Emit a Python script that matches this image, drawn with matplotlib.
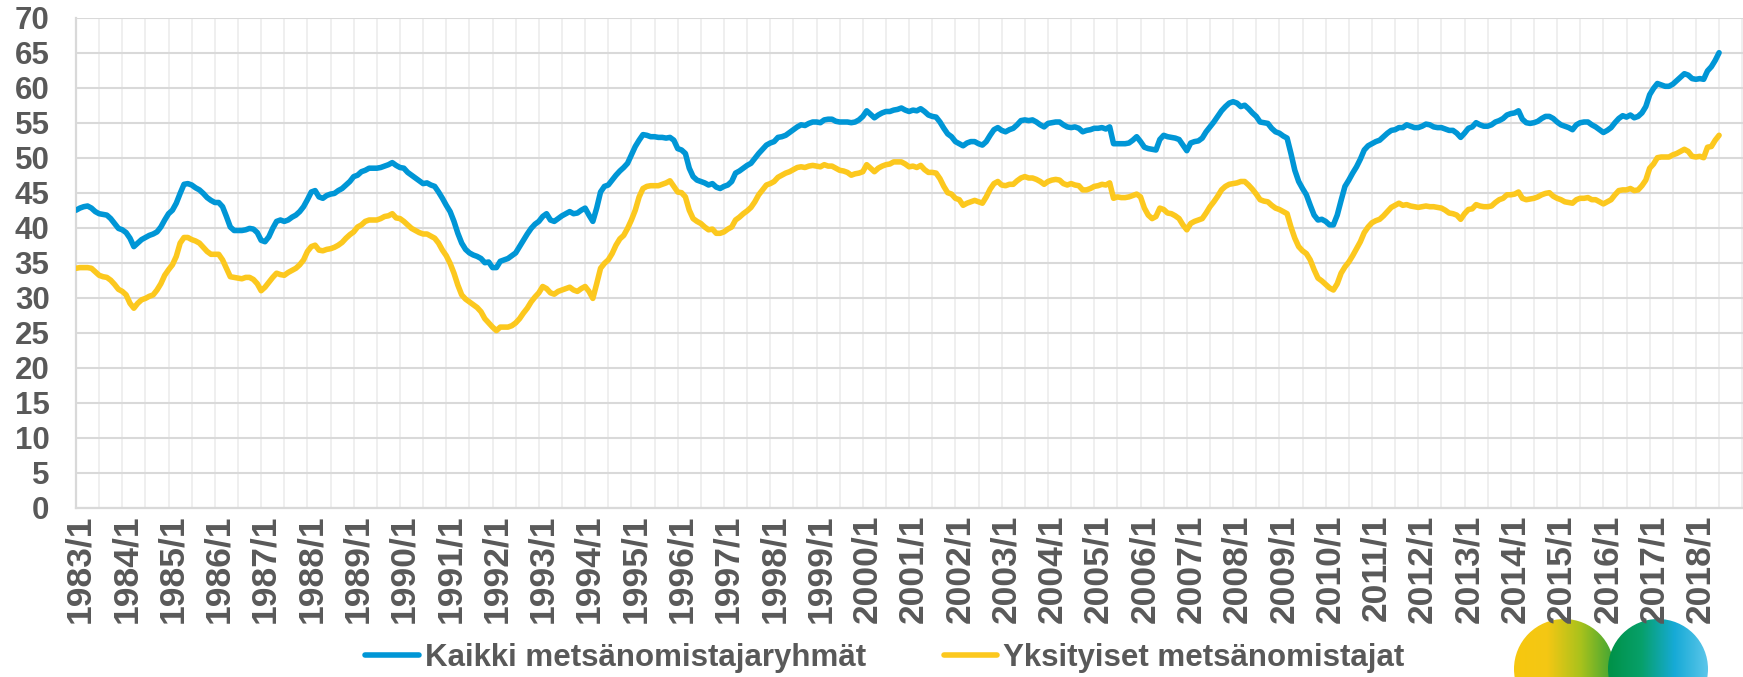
import matplotlib
matplotlib.use("Agg")
import matplotlib.pyplot as plt
import matplotlib.transforms as mtransforms
import numpy as np
from matplotlib.ticker import MultipleLocator, FixedLocator
from matplotlib.colors import LinearSegmentedColormap
from matplotlib.patches import Circle

# monthly index, 1983/1 .. 2018/7
start_year = 1983
kaikki = [
    42.5, 42.8, 43.0, 43.1, 42.8, 42.3, 42.0, 41.9, 41.8, 41.3, 40.6, 39.9,
    39.7, 39.3, 38.5, 37.3, 37.8, 38.3, 38.6, 38.9, 39.1, 39.4, 40.1, 41.1,
    42.0, 42.5, 43.5, 44.9, 46.2, 46.3, 46.1, 45.7, 45.4, 44.9, 44.3, 43.9,
    43.6, 43.6, 43.0, 41.6, 40.1, 39.6, 39.6, 39.6, 39.7, 39.9, 39.8, 39.3,
    38.2, 38.0, 38.7, 39.9, 40.9, 41.1, 40.9, 41.1, 41.5, 41.8, 42.3, 43.0,
    44.0, 45.1, 45.3, 44.4, 44.2, 44.6, 44.8, 44.9, 45.3, 45.6, 46.1, 46.6,
    47.3, 47.5, 48.0, 48.2, 48.5, 48.5, 48.5, 48.6, 48.8, 49.0, 49.3, 48.9,
    48.6, 48.5, 47.9, 47.5, 47.1, 46.7, 46.3, 46.4, 46.1, 45.9, 45.1, 44.2,
    43.2, 42.3, 40.9, 39.2, 37.8, 36.9, 36.4, 36.1, 35.9, 35.6, 35.0, 35.1,
    34.3, 34.3, 35.2, 35.4, 35.6, 36.0, 36.4, 37.3, 38.2, 39.1, 39.9, 40.5,
    40.9, 41.6, 42.0, 41.1, 40.9, 41.3, 41.7, 42.0, 42.3, 42.0, 42.1, 42.5,
    42.8, 41.8, 40.9, 42.8, 45.1, 45.9, 46.1, 46.8, 47.5, 48.1, 48.6, 49.2,
    50.4, 51.6, 52.5, 53.3, 53.2, 53.0, 53.0, 52.9, 52.9, 52.8, 52.9, 52.5,
    51.3, 51.1, 50.6, 48.5, 47.3, 46.8, 46.6, 46.4, 46.1, 46.3, 45.8, 45.6,
    45.9, 46.1, 46.6, 47.8, 48.1, 48.5, 48.9, 49.2, 49.9, 50.6, 51.2, 51.8,
    52.1, 52.3, 52.9, 53.0, 53.2, 53.6, 54.0, 54.4, 54.7, 54.6, 54.9, 55.1,
    55.1, 55.0, 55.4, 55.5, 55.5, 55.2, 55.1, 55.1, 55.1, 55.0, 55.1, 55.4,
    55.9, 56.7, 56.2, 55.7, 56.1, 56.4, 56.6, 56.6, 56.8, 56.9, 57.1, 56.8,
    56.6, 56.8, 56.7, 57.0, 56.6, 56.1, 55.9, 55.8, 55.1, 54.2, 53.4, 53.0,
    52.3, 52.0, 51.7, 52.1, 52.3, 52.3, 52.0, 51.8, 52.3, 53.2, 54.0, 54.3,
    53.9, 53.7, 54.0, 54.2, 54.7, 55.3, 55.4, 55.3, 55.4, 55.1, 54.7, 54.4,
    54.9, 55.0, 55.1, 55.1, 54.7, 54.4, 54.3, 54.4, 54.2, 53.7, 53.9, 54.0,
    54.2, 54.2, 54.3, 54.1, 54.4, 52.0, 52.0, 52.0, 52.0, 52.1, 52.5, 53.0,
    52.3, 51.5, 51.3, 51.2, 51.1, 52.6, 53.2, 53.0, 52.9, 52.8, 52.6, 51.8,
    51.0, 52.1, 52.3, 52.4, 52.8, 53.7, 54.4, 55.1, 55.9, 56.7, 57.3, 57.8,
    58.0, 57.8, 57.3, 57.5, 57.0, 56.4, 55.9, 55.1, 55.0, 54.9, 54.2, 53.7,
    53.5, 53.1, 52.8, 50.6, 48.2, 46.6, 45.6, 44.7, 43.2, 41.8, 41.1, 41.2,
    40.9, 40.4, 40.4, 41.8, 43.9, 45.9, 46.8, 47.8, 48.7, 49.8, 51.1, 51.7,
    52.0, 52.3, 52.5, 53.0, 53.5, 53.9, 54.0, 54.3, 54.3, 54.7, 54.5, 54.3,
    54.3, 54.5, 54.8, 54.7, 54.4, 54.3, 54.3, 54.1, 53.9, 53.9, 53.5, 52.9,
    53.5, 54.2, 54.4, 55.0, 54.7, 54.5, 54.5, 54.7, 55.1, 55.3, 55.6, 56.1,
    56.3, 56.4, 56.7, 55.5, 55.0, 54.9, 55.0, 55.2, 55.6, 55.9, 55.9, 55.6,
    55.1, 54.7, 54.5, 54.3, 54.0, 54.7, 55.0, 55.1, 55.1, 54.7, 54.4, 54.0,
    53.6, 53.9, 54.3, 55.0, 55.6, 56.0, 55.8, 56.1, 55.7, 55.9, 56.4, 57.3,
    59.0, 59.9, 60.6, 60.4, 60.2, 60.2, 60.5, 61.0, 61.5, 62.0, 61.8, 61.3,
    61.2, 61.3, 61.2, 62.4, 63.0, 63.9, 65.0,
]
yksityiset = [
    34.2, 34.3, 34.3, 34.3, 34.2, 33.7, 33.2, 33.0, 32.9, 32.5, 31.9, 31.2,
    30.9, 30.4, 29.2, 28.5, 29.2, 29.7, 29.9, 30.2, 30.4, 31.1, 32.0, 33.2,
    34.0, 34.7, 35.9, 37.8, 38.6, 38.6, 38.3, 38.1, 37.8, 37.2, 36.6, 36.2,
    36.2, 36.2, 35.4, 34.2, 33.0, 32.9, 32.8, 32.7, 32.9, 32.9, 32.6, 32.0,
    31.0, 31.5, 32.2, 32.9, 33.5, 33.3, 33.2, 33.6, 33.9, 34.2, 34.7, 35.4,
    36.6, 37.3, 37.5, 36.8, 36.7, 36.9, 37.0, 37.2, 37.5, 37.9, 38.5, 39.0,
    39.4, 40.1, 40.4, 40.9, 41.1, 41.1, 41.1, 41.3, 41.6, 41.7, 42.0, 41.4,
    41.3, 40.9, 40.4, 39.9, 39.6, 39.3, 39.1, 39.1, 38.8, 38.5, 37.8, 36.8,
    36.0, 34.9, 33.5, 31.8, 30.4, 29.8, 29.4, 29.0, 28.6, 28.0, 27.0, 26.4,
    25.8, 25.3, 25.8, 25.8, 25.8, 26.0, 26.4, 27.0, 27.8, 28.5, 29.4, 30.1,
    30.7, 31.6, 31.3, 30.7, 30.5, 30.9, 31.1, 31.3, 31.5, 31.1, 30.9, 31.3,
    31.6, 30.9, 29.9, 32.0, 34.2, 34.9, 35.4, 36.3, 37.5, 38.4, 38.9, 39.9,
    41.1, 42.5, 44.4, 45.6, 45.9, 46.0, 46.0, 46.0, 46.2, 46.4, 46.7, 45.9,
    45.1, 45.0, 44.4, 42.5, 41.3, 40.9, 40.6, 40.1, 39.7, 39.8, 39.2, 39.2,
    39.4, 39.8, 40.1, 41.1, 41.5, 42.0, 42.4, 42.9, 43.7, 44.7, 45.4, 46.1,
    46.3, 46.6, 47.2, 47.5, 47.8, 48.0, 48.3, 48.6, 48.7, 48.6, 48.8, 48.9,
    48.8, 48.7, 49.0, 48.8, 48.8, 48.5, 48.2, 48.1, 47.9, 47.5, 47.7, 47.8,
    48.0, 49.0, 48.5, 48.0, 48.5, 48.8, 49.0, 49.1, 49.4, 49.4, 49.4, 49.1,
    48.7, 48.8, 48.6, 48.9, 48.3, 47.9, 47.9, 47.8, 47.0, 45.9, 45.0, 44.8,
    44.2, 44.0, 43.2, 43.5, 43.7, 43.9, 43.7, 43.5, 44.4, 45.5, 46.3, 46.6,
    46.1, 46.0, 46.2, 46.2, 46.7, 47.1, 47.3, 47.1, 47.1, 46.9, 46.6, 46.2,
    46.6, 46.8, 46.9, 46.8, 46.3, 46.1, 46.3, 46.1, 46.0, 45.4, 45.4, 45.6,
    45.9, 46.0, 46.2, 46.1, 46.4, 44.2, 44.4, 44.3, 44.3, 44.4, 44.6, 44.8,
    44.4, 42.8, 41.8, 41.3, 41.6, 42.8, 42.6, 42.1, 42.0, 41.7, 41.3, 40.4,
    39.7, 40.6, 40.9, 41.1, 41.3, 42.1, 43.0, 43.7, 44.5, 45.4, 45.9, 46.2,
    46.3, 46.4, 46.6, 46.6, 46.1, 45.5, 44.8, 44.0, 43.8, 43.7, 43.2, 42.8,
    42.6, 42.3, 42.0, 40.1, 38.5, 37.3, 36.7, 36.3, 35.4, 34.0, 32.8, 32.4,
    31.9, 31.4, 31.1, 32.0, 33.5, 34.4, 35.1, 36.0, 37.0, 38.0, 39.3, 40.1,
    40.7, 41.0, 41.2, 41.7, 42.3, 42.9, 43.2, 43.5, 43.2, 43.3, 43.1, 43.0,
    42.9, 43.0, 43.1, 43.0, 43.0, 42.9, 42.8, 42.5, 42.1, 42.0, 41.8, 41.2,
    42.0, 42.6, 42.7, 43.3, 43.1, 43.0, 43.0, 43.1, 43.6, 44.0, 44.2, 44.7,
    44.7, 44.8, 45.1, 44.2, 44.0, 44.1, 44.2, 44.4, 44.7, 44.9, 45.0, 44.5,
    44.2, 44.0, 43.7, 43.6, 43.5, 44.0, 44.2, 44.2, 44.3, 44.0, 44.0, 43.7,
    43.4, 43.7, 44.0, 44.7, 45.3, 45.4, 45.4, 45.6, 45.3, 45.4, 46.0, 46.8,
    48.5, 49.1, 50.0, 50.1, 50.1, 50.1, 50.4, 50.6, 50.9, 51.2, 50.9, 50.2,
    50.1, 50.2, 50.0, 51.5, 51.6, 52.5, 53.2,
]
series_names = ["Kaikki metsänomistajaryhmät", "Yksityiset metsänomistajat"]
y_ticks = list(range(0, 75, 5))

n = len(kaikki)
cats = [f"{start_year + i // 12}/{i % 12 + 1}" for i in range(n)]
x = np.arange(n)

BLUE = "#0096D6"
YELLOW = "#FCC81E"
GREY = "#595959"

plt.rcParams["font.family"] = ["Liberation Sans", "DejaVu Sans"]
plt.rcParams["font.weight"] = "bold"

W, H = 1743, 677
fig = plt.figure(figsize=(W / 100, H / 100), dpi=100)
ax = fig.add_axes([76 / W, (H - 507.7) / H, (W - 76) / W, 490 / H])

ax.plot(x, kaikki, color=BLUE, lw=4.0, solid_joinstyle="round",
        solid_capstyle="round", label=series_names[0], zorder=3)
ax.plot(x, yksityiset, color=YELLOW, lw=4.0, solid_joinstyle="round",
        solid_capstyle="round", label=series_names[1], zorder=3)

ax.set_ylim(0, 70)
ax.set_xlim(0, (W - 76) / 3.857)
ax.set_yticks(y_ticks)
ax.xaxis.set_major_locator(FixedLocator(list(range(0, n, 12))))
ax.set_xticklabels([cats[i] for i in range(0, n, 12)], rotation=90)
ax.xaxis.set_minor_locator(MultipleLocator(6))

ax.grid(axis="y", color="#D9D9D9", lw=1.5)
ax.grid(axis="x", which="both", color="#EEEEEE", lw=1.3)
ax.set_axisbelow(True)

for s in ["top", "right"]:
    ax.spines[s].set_visible(False)
for s in ["left", "bottom"]:
    ax.spines[s].set_color("#D9D9D9")
    ax.spines[s].set_linewidth(1.6)

ax.tick_params(axis="both", which="both", length=0, labelcolor=GREY)
ax.tick_params(axis="y", pad=19, labelsize=22.5)
ax.tick_params(axis="x", pad=5, labelsize=25.5)
shift = mtransforms.ScaledTranslation(4 / 100, 0, fig.dpi_scale_trans)
for t in ax.get_xticklabels():
    t.set_fontweight("bold")
    t.set_transform(t.get_transform() + shift)
for t in ax.get_yticklabels():
    t.set_fontweight("bold")

leg = fig.legend(loc="center", bbox_to_anchor=(885 / W, 19 / H), ncol=2,
                 frameon=False, handlelength=1.7, handletextpad=0.2,
                 columnspacing=2.5, borderpad=0, borderaxespad=0,
                 prop={"size": 22.5, "weight": "bold"})
for t in leg.get_texts():
    t.set_color(GREY)
for h in leg.get_lines():
    h.set_linewidth(4.0)

# logo, bottom right corner, drawn under the tick labels
lax = fig.add_axes([1500 / W, 0, 243 / W, 70 / H])
lax.set_zorder(-1)
lax.axis("off")
rings = [
    (1564, 669, 50, ["#F7C80F", "#F4C714", "#A9C21C", "#3FA535"]),
    (1658, 669, 50, ["#009147", "#07A06A", "#16AAD6", "#5CC6EA"]),
]
for cx, cy, r, stops in rings:
    cmap = LinearSegmentedColormap.from_list("g", stops)
    grad = cmap(np.linspace(0, 1, 256))[None, :, :3]
    im = lax.imshow(grad, extent=(cx - r, cx + r, cy + r, cy - r),
                    aspect="auto", interpolation="bilinear")
    im.set_clip_path(Circle((cx, cy), r, transform=lax.transData))
    lax.add_patch(Circle((cx, cy + 30), 17, color="white", alpha=0.85,
                         zorder=5))
lax.set_xlim(1500, 1743)
lax.set_ylim(677, 607)

fig.savefig("out.png", dpi=100)
